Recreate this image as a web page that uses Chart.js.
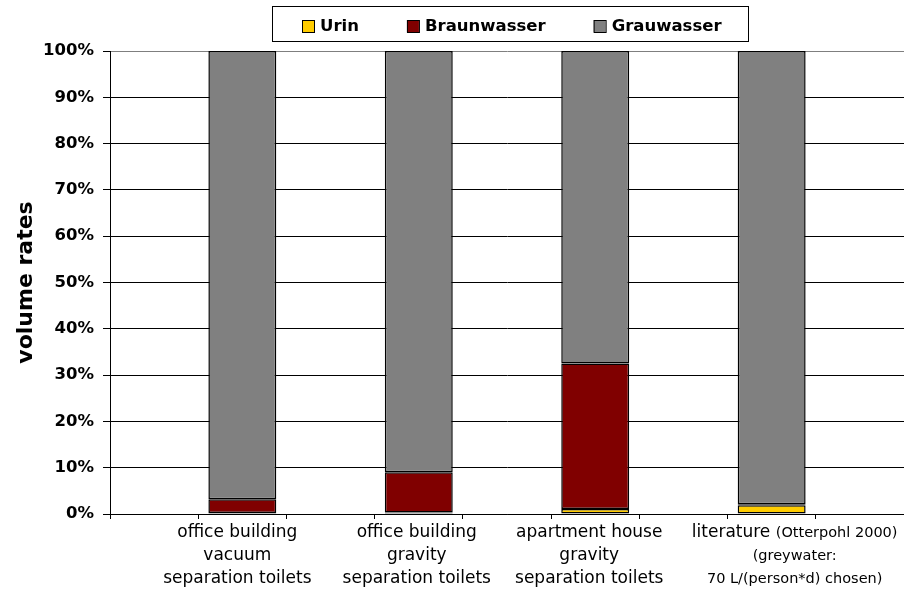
<!DOCTYPE html>
<html>
<head>
<meta charset="utf-8">
<script src="https://cdn.jsdelivr.net/npm/chart.js@4.4.1/dist/chart.umd.min.js"></script>
<style>
  html, body { margin: 0; padding: 0; background: #fff; }
  canvas { display: block; }
</style>
</head>
<body>
<canvas id="volumeChart" width="904" height="595"></canvas>
<script>
// sites / sources, one bar each
const categories = [
  ['office building', 'vacuum', 'separation toilets'],
  ['office building', 'gravity', 'separation toilets'],
  ['apartment house', 'gravity', 'separation toilets'],
  ['literature (Otterpohl 2000)', '(greywater:', '70 L/(person*d) chosen)']
];

// share of total wastewater volume, %
const urin = [0.2, 0.3, 1.1, 1.9];
const braunwasser = [3.0, 8.7, 31.4, 0.2];
const grauwasser = [96.8, 91.0, 67.5, 97.9];

const yTickStep = 10;

// horizontal nudge of the category captions
const labelShift = [-5, -2, -6, 23];

const FONT = '"DejaVu Sans", sans-serif';

// bars sit in every second slot with an empty slot on each side
function spread(values) {
  const out = [];
  values.forEach(v => out.push(null, v));
  out.push(null);
  return out;
}

const slotLabels = spread(categories.map((c, i) => 'c' + i)).map((v, i) => v || 'gap' + i);

const categoryLabels = {
  id: 'categoryLabels',
  afterDraw(chart) {
    const { ctx } = chart;
    const x = chart.scales.x;
    ctx.save();
    ctx.fillStyle = '#000';
    ctx.textBaseline = 'middle';
    ctx.textAlign = 'left';
    const big = '17px ' + FONT;
    const small = '14.5px ' + FONT;
    categories.forEach((lines, i) => {
      const cx = x.getPixelForValue(2 * i + 1) + labelShift[i];
      let smallMode = false;
      lines.forEach((line, j) => {
        const y = x.top + 19 + 23 * j;
        let parts;
        if (smallMode) {
          parts = [[line, small]];
        } else {
          const k = line.indexOf('(');
          if (k >= 0) {
            parts = [[line.slice(0, k), big], [line.slice(k), small]];
            smallMode = true;
          } else {
            parts = [[line, big]];
          }
        }
        const widths = parts.map(([t, f]) => { ctx.font = f; return ctx.measureText(t).width; });
        let px = cx - widths.reduce((a, b) => a + b, 0) / 2;
        parts.forEach(([t, f], n) => {
          ctx.font = f;
          ctx.fillText(t, px, y);
          px += widths[n];
        });
      });
    });
    ctx.restore();
  }
};

const framedLegend = {
  id: 'framedLegend',
  afterDraw(chart) {
    const { ctx } = chart;
    ctx.save();
    ctx.font = 'bold 16.5px ' + FONT;
    const box = 12, gap = 6, spacing = 48;
    const items = chart.data.datasets.map(ds => ({
      text: ds.label,
      color: ds.backgroundColor,
      w: ctx.measureText(ds.label).width
    }));
    const total = items.reduce((s, it) => s + box + gap + it.w, 0) + spacing * (items.length - 1);
    let x = Math.round(512 - total / 2);
    const cy = 26.5;

    ctx.strokeStyle = '#000';
    ctx.lineWidth = 1;
    ctx.strokeRect(x - 30 + 0.5, 6.5, Math.round(total + 56), 35);

    ctx.textBaseline = 'middle';
    ctx.textAlign = 'left';
    items.forEach(it => {
      ctx.fillStyle = it.color;
      ctx.fillRect(x, 20, box, box);
      ctx.strokeRect(x + 0.5, 20.5, box, box);
      ctx.fillStyle = '#000';
      ctx.fillText(it.text, x + box + gap, cy);
      x += box + gap + it.w + spacing;
    });
    ctx.restore();
  }
};

const barStyle = {
  borderColor: '#000',
  borderWidth: 1.5,
  borderSkipped: false,
  categoryPercentage: 1,
  barPercentage: 0.77
};

new Chart(document.getElementById('volumeChart'), {
  type: 'bar',
  data: {
    labels: slotLabels,
    datasets: [
      { label: 'Urin', data: spread(urin), backgroundColor: '#ffcc00', ...barStyle },
      { label: 'Braunwasser', data: spread(braunwasser), backgroundColor: '#800000', ...barStyle },
      { label: 'Grauwasser', data: spread(grauwasser), backgroundColor: '#808080', ...barStyle }
    ]
  },
  options: {
    responsive: false,
    animation: false,
    devicePixelRatio: 1,
    layout: { padding: { top: 51, right: 0, bottom: 0, left: 0 } },
    plugins: {
      legend: { display: false },
      tooltip: { enabled: false }
    },
    scales: {
      x: {
        stacked: true,
        ticks: { display: false },
        grid: { drawOnChartArea: false, tickLength: 5, color: '#000', offset: true },
        border: { color: '#000' },
        afterFit: s => { s.height = 81; }
      },
      y: {
        stacked: true,
        min: 0,
        max: 100,
        ticks: {
          stepSize: yTickStep,
          callback: v => v + '%',
          color: '#000',
          padding: 9,
          font: { family: FONT, size: 16.5, weight: 'bold' }
        },
        grid: {
          color: c => (c.tick && c.tick.value === 100 ? '#7f7f7f' : '#000'),
          tickColor: '#000',
          tickLength: 7
        },
        border: { color: '#000' },
        title: {
          display: true,
          text: 'volume rates',
          color: '#000',
          padding: { top: 13, bottom: 0 },
          font: { family: FONT, size: 22, weight: 'bold' }
        },
        afterFit: s => { s.width = 110; }
      }
    }
  },
  plugins: [categoryLabels, framedLegend]
});
</script>
</body>
</html>
